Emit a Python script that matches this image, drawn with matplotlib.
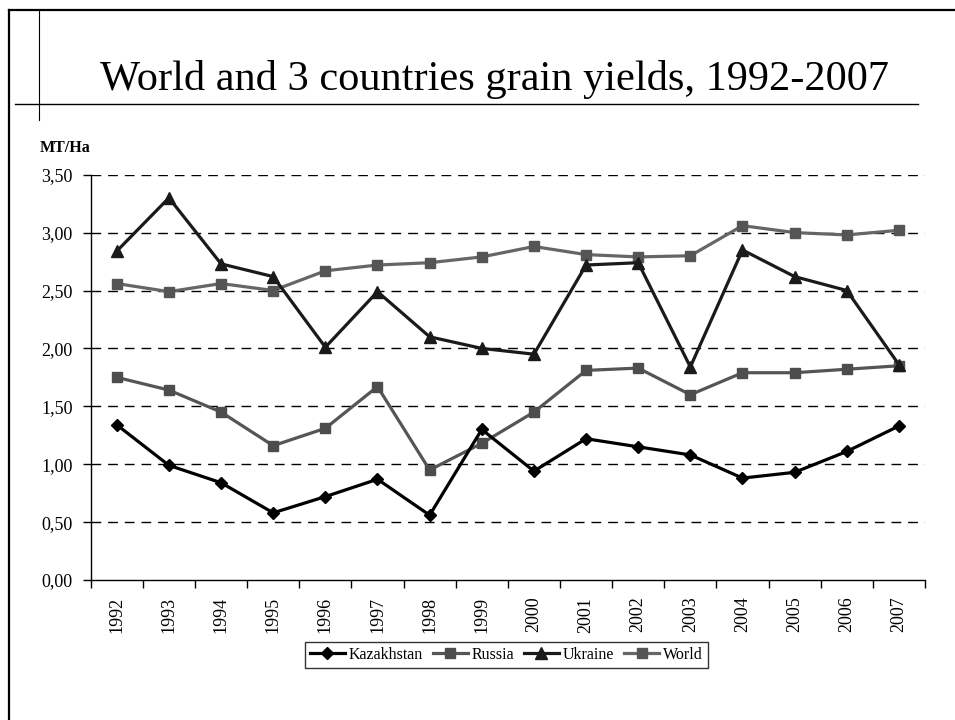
import matplotlib
matplotlib.use("Agg")
import matplotlib.pyplot as plt
from matplotlib.lines import Line2D
import numpy as np

years = ["1992", "1993", "1994", "1995", "1996", "1997", "1998", "1999",
         "2000", "2001", "2002", "2003", "2004", "2005", "2006", "2007"]
kazakhstan = [1.34, 0.99, 0.84, 0.58, 0.72, 0.87, 0.56, 1.30,
              0.94, 1.22, 1.15, 1.08, 0.88, 0.93, 1.11, 1.33]
russia = [1.75, 1.64, 1.45, 1.16, 1.31, 1.67, 0.95, 1.18,
          1.45, 1.81, 1.83, 1.60, 1.79, 1.79, 1.82, 1.85]
ukraine = [2.84, 3.30, 2.73, 2.62, 2.01, 2.49, 2.10, 2.00,
           1.95, 2.72, 2.74, 1.84, 2.85, 2.62, 2.50, 1.86]
world = [2.56, 2.49, 2.56, 2.50, 2.67, 2.72, 2.74, 2.79,
         2.88, 2.81, 2.79, 2.80, 3.06, 3.00, 2.98, 3.02]
yticks = [0.0, 0.5, 1.0, 1.5, 2.0, 2.5, 3.0, 3.5]
title = "World and 3 countries grain yields, 1992-2007"
ylabel = "MT/Ha"

plt.rcParams['font.family'] = ['Liberation Serif', 'DejaVu Serif']

W, H = 955, 720
fig = plt.figure(figsize=(W / 100, H / 100), dpi=100)
ax = fig.add_axes([90.7 / W, 1 - 580 / H, (925 - 90.7) / W, (580 - 174.7) / H])

x = np.arange(len(years))
ax.plot(x, kazakhstan, color='#000000', lw=2.3, marker='D', ms=6, label='Kazakhstan', zorder=5)
ax.plot(x, russia, color='#555555', lw=2.3, marker='s', ms=7.5, mfc='#4d4d4d', mec='#4d4d4d', label='Russia', zorder=4)
ax.plot(x, ukraine, color='#1a1a1a', lw=2.3, marker='^', ms=8.5, label='Ukraine', zorder=5)
ax.plot(x, world, color='#666666', lw=2.3, marker='s', ms=7.5, mfc='#555555', mec='#555555', label='World', zorder=4)

ax.set_xlim(-0.5, len(years) - 0.5)
ax.set_ylim(0, 3.5)
ax.set_yticks(yticks)
ax.set_yticklabels([f"{v:.2f}".replace('.', ',') for v in yticks], fontsize=13)
ax.set_xticks(np.arange(len(years) + 1) - 0.5)
ax.set_xticklabels([])
ax.set_xticks(x, minor=True)
ax.set_xticklabels(years, minor=True, rotation=90, fontsize=13)
ax.tick_params(axis='x', which='major', length=6, width=1, direction='out')
ax.tick_params(axis='x', which='minor', length=0, pad=12)
ax.tick_params(axis='y', length=6, width=1, pad=7)
for v in yticks[1:]:
    ax.axhline(v, color='black', lw=1, ls=(0, (7, 5)), zorder=1)
for s in ['top', 'right']:
    ax.spines[s].set_visible(False)
for s in ['left', 'bottom']:
    ax.spines[s].set_linewidth(1)
    ax.spines[s].set_color('black')

leg = ax.legend(loc='upper center', bbox_to_anchor=(0.498, -0.153), ncol=4,
                fontsize=11.5, frameon=True, fancybox=False, edgecolor='black',
                handlelength=2.2, handletextpad=0.25, columnspacing=0.6,
                borderpad=0.3, borderaxespad=0)
leg.get_frame().set_linewidth(1)

fig.text(494 / W, 1 - 90 / H, title, ha='center', va='baseline', fontsize=30.5)
fig.text(40 / W, 1 - 152 / H, ylabel, ha='left', va='baseline', fontsize=11.5, fontweight='bold')

# slide frame lines
fig.add_artist(Line2D([8.5 / W, 8.5 / W], [0, 1 - 10 / H], transform=fig.transFigure, color='black', lw=1.6))
fig.add_artist(Line2D([8.5 / W, 1], [1 - 10 / H, 1 - 10 / H], transform=fig.transFigure, color='black', lw=1.6))
fig.add_artist(Line2D([39 / W, 39 / W], [1 - 10 / H, 1 - 120 / H], transform=fig.transFigure, color='black', lw=0.8))
fig.add_artist(Line2D([15 / W, 918 / W], [1 - 103.5 / H, 1 - 103.5 / H], transform=fig.transFigure, color='black', lw=1.0))

fig.savefig('out.png', dpi=100)
